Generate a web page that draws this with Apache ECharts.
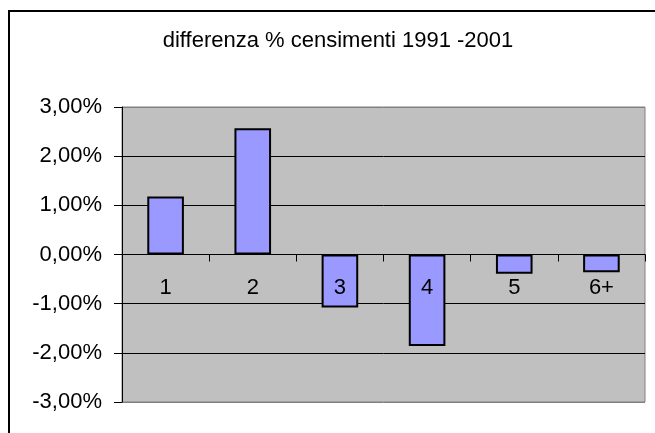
<!DOCTYPE html>
<html>
<head>
<meta charset="utf-8">
<title>differenza % censimenti 1991 -2001</title>
<script src="https://cdn.jsdelivr.net/npm/echarts@6/dist/echarts.min.js"></script>
<style>
  html, body { margin: 0; padding: 0; background: #fff; }
  #chart { width: 655px; height: 433px; }
</style>
</head>
<body>
<div id="chart"></div>
<script>
// dati (valori in %)
const categories = ['1', '2', '3', '4', '5', '6+']
const differenza = [1.18, 2.57, -1.08, -1.86, -0.39, -0.36]
const yTicks = [-3, -2, -1, 0, 1, 2, 3]

const FONT = '"Liberation Sans", Arial, sans-serif'
const GRID_TOP = 107
const GRID_BOTTOM = 31
const PLOT_H = 433 - GRID_TOP - GRID_BOTTOM

function fmtPct(v) {
  return v.toFixed(2).replace('.', ',') + '%'
}

const chart = echarts.init(document.getElementById('chart'), null, { renderer: 'canvas' })

const option = {
  animation: false,
  backgroundColor: '#fff',
  textStyle: { fontFamily: FONT },
  title: {
    text: 'differenza % censimenti 1991 -2001',
    left: 333,
    top: 25,
    textAlign: 'center',
    textStyle: { fontFamily: FONT, fontSize: 22, fontWeight: 'normal', color: '#000' }
  },
  graphic: [
    {
      // cornice esterna
      type: 'rect',
      shape: { x: 9, y: 11, width: 700, height: 500 },
      style: { fill: null, stroke: '#000', lineWidth: 2 },
      silent: true
    }
  ],
  grid: {
    left: 122,
    right: 10,
    top: GRID_TOP,
    bottom: GRID_BOTTOM,
    outerBoundsMode: 'none',
    containLabel: false,
    show: true,
    backgroundColor: '#C0C0C0',
    borderColor: '#808080',
    borderWidth: 1
  },
  xAxis: {
    type: 'category',
    data: categories,
    position: 'bottom',
    offset: -PLOT_H / 2, // asse sullo zero (min -3, max 3)
    z: 5,
    axisLine: { onZero: false, lineStyle: { color: '#000', width: 1 } },
    axisTick: { show: true, inside: false, length: 7, lineStyle: { color: '#000' } },
    axisLabel: { margin: 22, fontFamily: FONT, fontSize: 22, color: '#000' },
    splitLine: { show: false }
  },
  yAxis: {
    type: 'value',
    min: yTicks[0],
    max: yTicks[yTicks.length - 1],
    interval: 1,
    axisLine: { show: true, lineStyle: { color: '#000', width: 1 } },
    axisTick: { show: true, length: 8, lineStyle: { color: '#000' } },
    axisLabel: {
      margin: 20,
      fontFamily: FONT,
      fontSize: 22,
      color: '#000',
      formatter: fmtPct
    },
    splitLine: {
      show: true,
      lineStyle: {
        color: ['#808080', '#000', '#000', '#000', '#000', '#000', '#808080'],
        width: 1
      }
    }
  },
  series: [
    {
      type: 'bar',
      data: differenza,
      barWidth: '42%',
      itemStyle: { color: '#9999FF', borderColor: '#000', borderWidth: 2 }
    }
  ]
}

chart.setOption(option)
</script>
</body>
</html>
